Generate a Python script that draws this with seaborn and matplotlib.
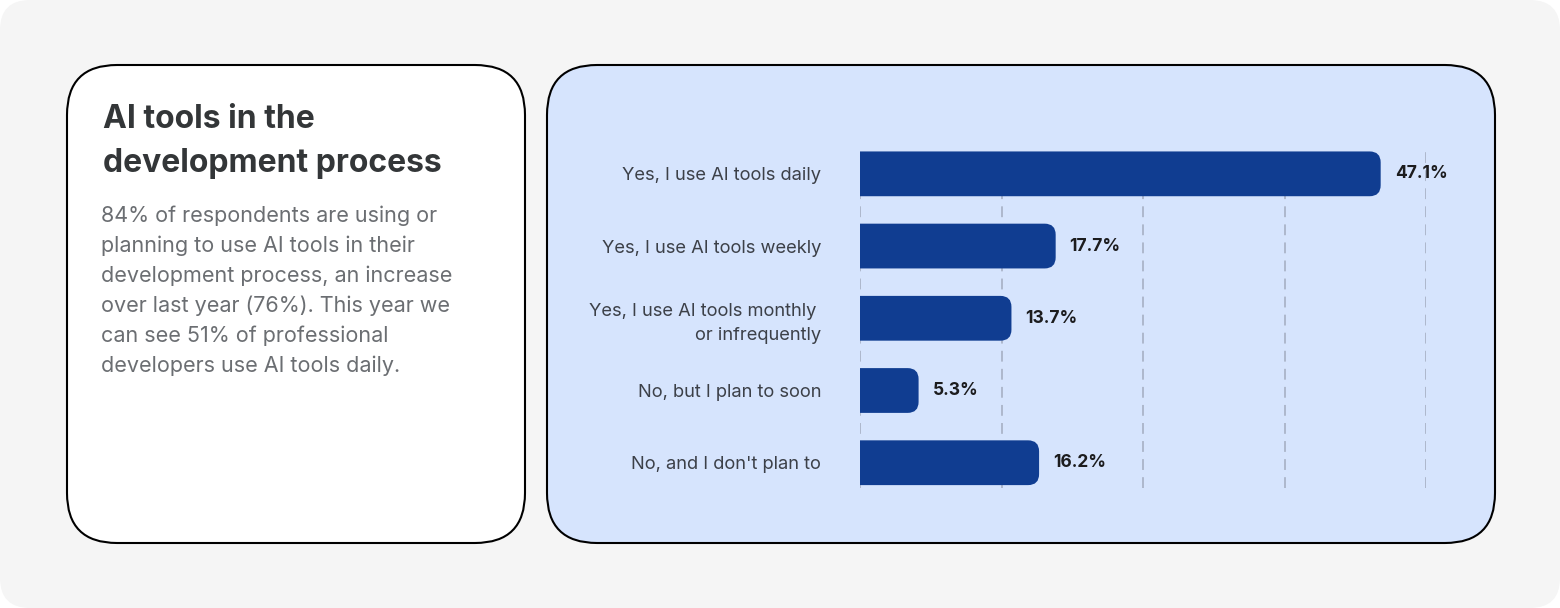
import numpy as np
import pandas as pd
import matplotlib.pyplot as plt
import seaborn as sns
from matplotlib.patches import FancyBboxPatch

sns.set_theme(style="white")
plt.rcParams['font.family'] = ['Inter', 'DejaVu Sans']

# data
answers = [
    "Yes, I use AI tools daily",
    "Yes, I use AI tools weekly",
    "Yes, I use AI tools monthly \nor infrequently",
    "No, but I plan to soon",
    "No, and I don't plan to",
]
shares = [47.1, 17.7, 13.7, 5.3, 16.2]
value_labels = ["47.1%", "17.7%", "13.7%", "5.3%", "16.2%"]

title_lines = ["AI tools in the", "development process"]
body_lines = [
    "84% of respondents are using or",
    "planning to use AI tools in their",
    "development process, an increase",
    "over last year (76%). This year we",
    "can see 51% of professional",
    "developers use AI tools daily.",
]

df = pd.DataFrame({"answer": answers, "share": shares})

W, H = 1560, 608
fig = plt.figure(figsize=(W / 100, H / 100), dpi=100)
fig.patch.set_facecolor("white")

# background layer in pixel coordinates
bg = fig.add_axes([0, 0, 1, 1])
bg.set_xlim(0, W)
bg.set_ylim(H, 0)
bg.axis("off")
bg.add_patch(FancyBboxPatch((0, 0), W, H, boxstyle="round,pad=0,rounding_size=30",
                            fc="#f5f5f5", ec="none"))
bg.add_patch(FancyBboxPatch((67, 65), 458, 478, boxstyle="round,pad=0,rounding_size=50",
                            fc="white", ec="black", lw=1.5))
bg.add_patch(FancyBboxPatch((547, 65), 948, 478, boxstyle="round,pad=0,rounding_size=50",
                            fc="#d6e4fd", ec="black", lw=1.5))

for i, line in enumerate(title_lines):
    bg.text(103, 128 + 44 * i, line, fontsize=23, fontweight="bold", color="#333638",
            va="baseline", ha="left")
for i, line in enumerate(body_lines):
    bg.text(101, 222 + 30 * i, line, fontsize=15.5, color="#6b6e72",
            va="baseline", ha="left")

# bar chart
xmax = 51.2
ax = fig.add_axes([860 / W, 1 - 488 / H, 566 / W, 338 / H])
ax.patch.set_alpha(0)
sns.barplot(data=df, x="share", y="answer", color="#103d91", width=0.62,
            saturation=1, ax=ax, zorder=3)
ax.set_xlim(0, xmax)
ax.set_ylim(4.35, -0.33)
ax.set_xticks(np.linspace(0, xmax, 5))
ax.xaxis.grid(True, linestyle=(0, (6, 4)), color="#aab4c8", lw=1.3, zorder=0)
ax.set_axisbelow(True)
ax.tick_params(axis="x", length=0, labelbottom=False)
ax.tick_params(axis="y", length=0, pad=28, labelsize=13.2, labelcolor="#3c4048")
for t in ax.get_yticklabels():
    t.set_linespacing(1.55)
for s in ax.spines.values():
    s.set_visible(False)
ax.set_xlabel("")
ax.set_ylabel("")

# rounded right ends (left side hangs past the axes and is clipped)
bb = ax.get_window_extent()
xpp = xmax / bb.width
ypp = (4.35 + 0.33) / bb.height
r_px = 11
for p, lab in zip(list(ax.patches), value_labels):
    x0, y0, w, h = p.get_x(), p.get_y(), p.get_width(), p.get_height()
    p.set_visible(False)
    ext = 3 * r_px * xpp
    ax.add_patch(FancyBboxPatch((x0 - ext, y0), w + ext, h,
                                boxstyle=f"round,pad=0,rounding_size={r_px * xpp}",
                                mutation_aspect=ypp / xpp, fc="#103d91", ec="none",
                                zorder=3, clip_on=True))
    ax.text(x0 + w + 14 * xpp, y0 + h / 2, lab, fontsize=12.5, fontweight="bold",
            color="#1c1c1e", va="center", ha="left")

fig.savefig("out.png", dpi=100)
